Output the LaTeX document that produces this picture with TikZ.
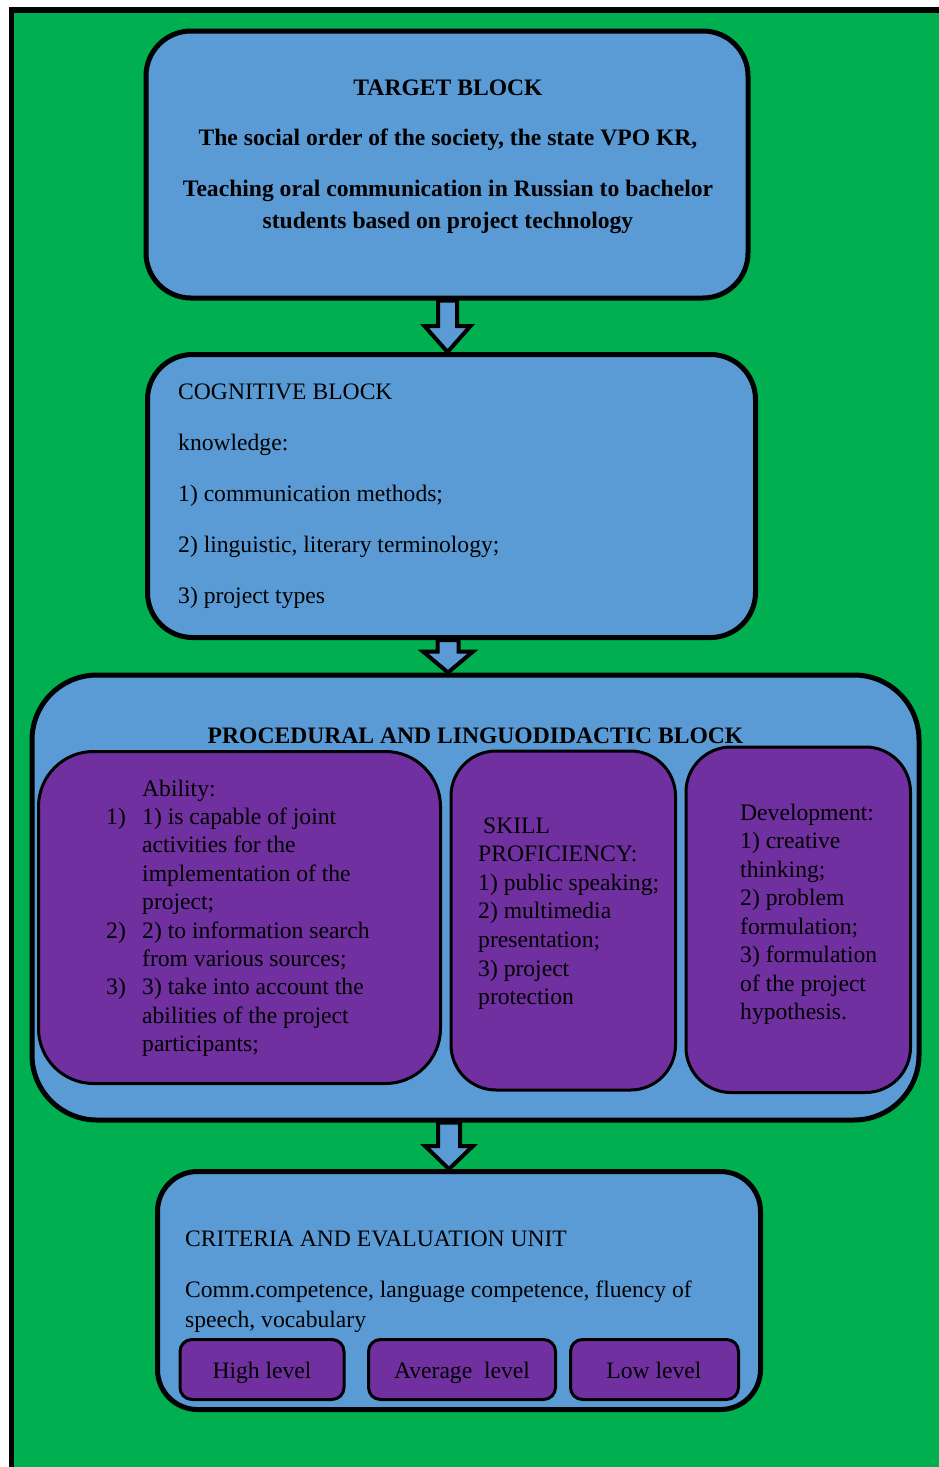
\documentclass[tikz,border=0pt]{standalone}
\usepackage{fontspec}
\setmainfont{Liberation Serif}
\usetikzlibrary{calc}
\definecolor{bgreen}{HTML}{00B050}
\definecolor{bblue}{HTML}{5B9BD5}
\definecolor{bpurple}{HTML}{7030A0}
\tikzset{
  bigbox/.style={draw=black, fill=bblue, line width=5pt, rectangle, inner sep=0pt},
  subbox/.style={draw=black, fill=bpurple, line width=3pt, rectangle, inner sep=0pt},
  txt/.style={inner sep=0pt, anchor=base west, font=\fontsize{23.6}{28.5}\selectfont},
  ctxt/.style={inner sep=0pt, anchor=base, font=\fontsize{23.6}{28.5}\selectfont},
  btxt/.style={inner sep=0pt, anchor=base, font=\fontsize{23.6}{28.5}\selectfont\bfseries},
  barrow/.style={draw=black, fill=bblue, line width=4pt, line join=miter},
}
% #1 top node, #2 bottom node, #3 x (pt), #4 head length, #5 shaft half width, #6 head half width
\newcommand\blockarrow[6]{%
  \draw[barrow] let \p1=(#1.south), \p2=(#2.north) in
    ({#3-#5},\y1) -- ({#3-#5},{\y2+#4}) -- ({#3-#6},{\y2+#4}) -- (#3,\y2)
    -- ({#3+#6},{\y2+#4}) -- ({#3+#5},{\y2+#4}) -- ({#3+#5},\y1) -- cycle;}
\begin{document}
\begin{tikzpicture}[x=1pt,y=-1pt]
\useasboundingbox (0,0) rectangle (939,1467);
% background
\fill[white] (0,0) rectangle (939,1467);
\fill[bgreen] (9,7) rectangle (939,1467);
\fill[black] (9,7) rectangle (939,12.5);
\fill[black] (9,7) rectangle (14,1467);

% target block
\node[bigbox, rounded corners=45pt, minimum width=602pt, minimum height=267pt] (target) at (447,164.5) {};
\node[btxt] (t1) at (448,95) {TARGET BLOCK};
\node[btxt] (t2) at (448,145.5) {The social order of the society, the state VPO KR,};
\node[btxt] (t3) at (448,196.5) {Teaching oral communication in Russian to bachelor};
\node[btxt] (t4) at (448,228) {students based on project technology};

% cognitive block
\node[bigbox, rounded corners=45pt, minimum width=608pt, minimum height=283pt] (cog) at (451.5,496) {};
\foreach [count=\i from 0] \t in {COGNITIVE BLOCK, knowledge:, 1) communication methods;, {2) linguistic, literary terminology;}, 3) project types}
  \node[txt] (c\i) at (178,{399+51*\i}) {\t};

% procedural block
\node[bigbox, rounded corners=65pt, minimum width=887pt, minimum height=445pt] (proc) at (475.5,897.5) {};
\node[btxt] (ptitle) at (475.5,743) {PROCEDURAL AND LINGUODIDACTIC BLOCK};

\node[subbox, rounded corners=55pt, minimum width=402pt, minimum height=332pt] (ability) at (239.5,917.5) {};
\node[subbox, rounded corners=45pt, minimum width=224.5pt, minimum height=339pt] (skill) at (563.25,920.5) {};
\node[subbox, rounded corners=45pt, minimum width=224.5pt, minimum height=345.5pt] (devel) at (798.25,919.75) {};

\foreach [count=\i from 0] \t in {Ability:, 1) is capable of joint, activities for the, implementation of the, project;, 2) to information search, from various sources;, 3) take into account the, abilities of the project, participants;}
  \node[txt] (a\i) at (142,{796+28.4*\i}) {\t};
\node[txt] (n1) at (106,{796+28.4*1}) {1)};
\node[txt] (n2) at (106,{796+28.4*5}) {2)};
\node[txt] (n3) at (106,{796+28.4*7}) {3)};

\node[txt] (s0) at (483,833) {SKILL};
\foreach [count=\i from 1] \t in {PROFICIENCY:, 1) public speaking;, 2) multimedia, presentation;, 3) project, protection}
  \node[txt] (s\i) at (478,{833+28.6*\i}) {\t};

\foreach [count=\i from 0] \t in {Development:, 1) creative, thinking;, 2) problem, formulation;, 3) formulation, of the project, hypothesis.}
  \node[txt] (d\i) at (740,{820+28.5*\i}) {\t};

% criteria block
\node[bigbox, rounded corners=40pt, minimum width=603pt, minimum height=238pt] (crit) at (459,1290.5) {};
\node[txt] (cr0) at (185,1246) {CRITERIA AND EVALUATION UNIT};
\node[txt] (cr1) at (185,1297) {Comm.competence, language competence, fluency of};
\node[txt] (cr2) at (185,1327) {speech, vocabulary};

\node[subbox, rounded corners=12pt, minimum width=164pt, minimum height=60pt] (high) at (262,1369.5) {};
\node[subbox, rounded corners=12pt, minimum width=187pt, minimum height=60pt] (avg) at (462,1369.5) {};
\node[subbox, rounded corners=12pt, minimum width=168pt, minimum height=60pt] (low) at (654.5,1369.5) {};
\node[ctxt] (hl) at (262,1378) {High level};
\node[ctxt] (al) at (462,1378) {Average\ \ level};
\node[ctxt] (ll) at (654,1378) {Low level};

% arrows
\blockarrow{target}{cog}{447.5pt}{26pt}{9.5pt}{23pt}
\blockarrow{cog}{proc}{448pt}{21pt}{10.5pt}{25pt}
\blockarrow{proc}{crit}{449pt}{23pt}{11pt}{24pt}
\end{tikzpicture}
\end{document}
